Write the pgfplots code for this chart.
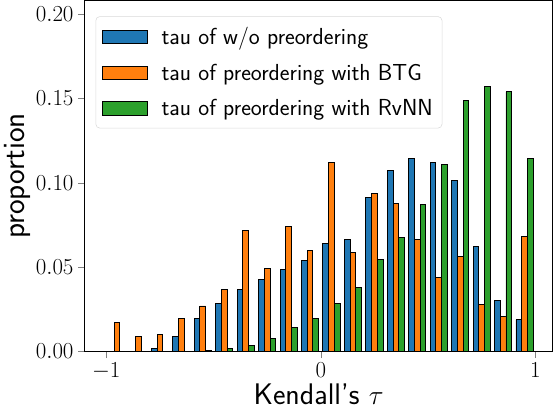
\documentclass[border=0pt]{standalone}
\usepackage{pgfplots}
\pgfplotsset{compat=1.18}
\definecolor{tabBlue}{HTML}{1F77B4}
\definecolor{tabOrange}{HTML}{FF7F0E}
\definecolor{tabGreen}{HTML}{2CA02C}

% histogram bins of width 0.1, x = bin centre
\pgfplotstableread{
x      wo      btg     rvnn
-0.95  0.0000  0.0172  0.0000
-0.85  0.0002  0.0088  0.0000
-0.75  0.0018  0.0102  0.0000
-0.65  0.0088  0.0194  0.0000
-0.55  0.0196  0.0270  0.0005
-0.45  0.0286  0.0366  0.0016
-0.35  0.0366  0.0719  0.0038
-0.25  0.0428  0.0491  0.0076
-0.15  0.0485  0.0743  0.0144
-0.05  0.0539  0.0597  0.0198
 0.05  0.0639  0.1119  0.0282
 0.15  0.0663  0.0587  0.0377
 0.25  0.0913  0.0935  0.0547
 0.35  0.1073  0.0879  0.0675
 0.45  0.1145  0.0661  0.0871
 0.55  0.1121  0.0438  0.1107
 0.65  0.1011  0.0563  0.1485
 0.75  0.0623  0.0278  0.1569
 0.85  0.0304  0.0210  0.1538
 0.95  0.0188  0.0679  0.1141
}\histdata

\begin{document}
\begin{tikzpicture}
\begin{axis}[
    scale only axis,
    width=353pt, height=265pt,
    xmin=-1.1, xmax=1.08,
    ymin=0, ymax=0.2078,
    xtick={-1,0,1},
    ytick={0,0.05,0.10,0.15,0.20},
    yticklabel style={/pgf/number format/.cd, fixed, fixed zerofill, precision=2},
    tick label style={font=\fontsize{16}{19}\selectfont},
    tick align=outside,
    xtick pos=bottom, ytick pos=left,
    major tick length=5pt,
    axis line style={line width=0.8pt},
    xlabel={\fontsize{22.5}{26}\selectfont\sffamily Kendall's $\tau$},
    ylabel={\fontsize{23.5}{27}\selectfont\sffamily proportion},
    ylabel style={yshift=-3pt},
    xlabel style={yshift=4pt},
    area legend,
    legend cell align=left,
    legend style={at={(0.023,0.955)}, anchor=north west,
        font=\fontsize{17.5}{21}\selectfont\sffamily,
        draw=black!15, rounded corners=3pt, fill=white, fill opacity=0.8, text opacity=1,
        row sep=9pt, inner xsep=5pt, inner ysep=6pt},
    legend image code/.code={
        \draw[#1, sharp corners, fill opacity=1, line width=0.6pt] (0pt,-5pt) rectangle (34pt,5pt);
        \path (42pt,0pt);},
]
\addplot[ybar, bar width=0.0267, bar shift=-0.0267, fill=tabBlue, draw=black, line width=0.7pt]
    table[x=x, y=wo] {\histdata};
\addplot[ybar, bar width=0.0267, bar shift=0, fill=tabOrange, draw=black, line width=0.7pt]
    table[x=x, y=btg] {\histdata};
\addplot[ybar, bar width=0.0267, bar shift=0.0267, fill=tabGreen, draw=black, line width=0.7pt]
    table[x=x, y=rvnn] {\histdata};
\legend{tau of w/o preordering, tau of preordering with BTG, tau of preordering with RvNN}
\end{axis}
\end{tikzpicture}
\end{document}
